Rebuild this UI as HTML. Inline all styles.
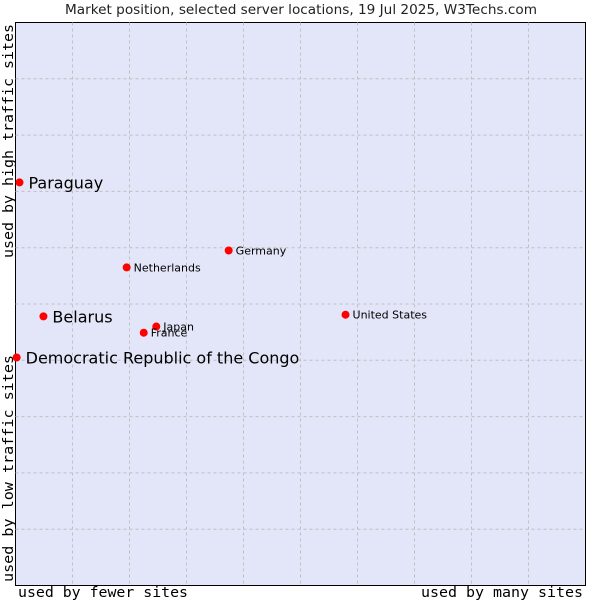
<!DOCTYPE html>
<html><head><meta charset="utf-8"><style>
body{margin:0;background:#fff;width:600px;height:600px;overflow:hidden}
svg{display:block;font-family:"DejaVu Sans","Liberation Sans",sans-serif}
</style></head><body>
<svg id="chart" width="600" height="600" viewBox="0 0 600 600">
<text x="65" y="14" textLength="472" lengthAdjust="spacingAndGlyphs" font-size="13" fill="#222">Market position, selected server locations, 19 Jul 2025, W3Techs.com</text>
<rect x="15.5" y="22.5" width="570" height="563" fill="#e3e5f8" stroke="#000" stroke-width="1"/>
<g id="grid"></g>
<text x="18" y="597" textLength="170" lengthAdjust="spacingAndGlyphs" font-family="DejaVu Sans Mono,Liberation Mono,monospace" font-size="14" fill="#000">used by fewer sites</text>
<text x="421" y="597" textLength="162" lengthAdjust="spacingAndGlyphs" font-family="DejaVu Sans Mono,Liberation Mono,monospace" font-size="14" fill="#000">used by many sites</text>
<text transform="translate(13,258) rotate(-90)" textLength="234" lengthAdjust="spacingAndGlyphs" font-family="DejaVu Sans Mono,Liberation Mono,monospace" font-size="14" fill="#000">used by high traffic sites</text>
<text transform="translate(13,582) rotate(-90)" textLength="227" lengthAdjust="spacingAndGlyphs" font-family="DejaVu Sans Mono,Liberation Mono,monospace" font-size="14" fill="#000">used by low traffic sites</text>
<g id="points"></g>
</svg>
<script>
const names=["Paraguay","Belarus","Democratic Republic of the Congo","Netherlands","Germany","United States","Japan","France"];
const xVals=[0.7,4.9,0.2,19.5,37.4,57.9,24.7,22.5];
const yVals=[71.6,47.8,40.5,56.5,59.5,48.1,46.0,44.9];
const big=[true,true,true,false,false,false,false,false];
const L=15.5,T=22.5,W=570,H=563;
const sx=v=>L+v/100*W, sy=v=>T+H-v/100*H;
const ns="http://www.w3.org/2000/svg";
const g=document.getElementById('grid');
for(let i=1;i<10;i++){
  const a=document.createElementNS(ns,'line');
  
  
  a.setAttribute('x1',sx(i*10));a.setAttribute('x2',sx(i*10));a.setAttribute('y1',T);a.setAttribute('y2',T+H);
  a.setAttribute('stroke','#c0c0c0');a.setAttribute('stroke-dasharray','3,3');g.appendChild(a);
  const b=document.createElementNS(ns,'line');
  
  
  b.setAttribute('y1',sy(i*10));b.setAttribute('y2',sy(i*10));b.setAttribute('x1',L);b.setAttribute('x2',L+W);
  b.setAttribute('stroke','#c0c0c0');b.setAttribute('stroke-dasharray','3,3');g.appendChild(b);
}
const p=document.getElementById('points');
names.forEach((n,i)=>{
  const x=sx(xVals[i]),y=sy(yVals[i]);
  const c=document.createElementNS(ns,'circle');
  
  
  c.setAttribute('cx',x);c.setAttribute('cy',y);c.setAttribute('r',4);c.setAttribute('fill','#ff0000');
  p.appendChild(c);
  const t=document.createElementNS(ns,'text');
  
  
  t.setAttribute('x',x+(big[i]?9:7));t.setAttribute('y',y+(big[i]?6:4));
  t.setAttribute('font-size',big[i]?16:11);t.setAttribute('fill','#000');
  t.textContent=n;p.appendChild(t);
});
</script>
</body></html>
